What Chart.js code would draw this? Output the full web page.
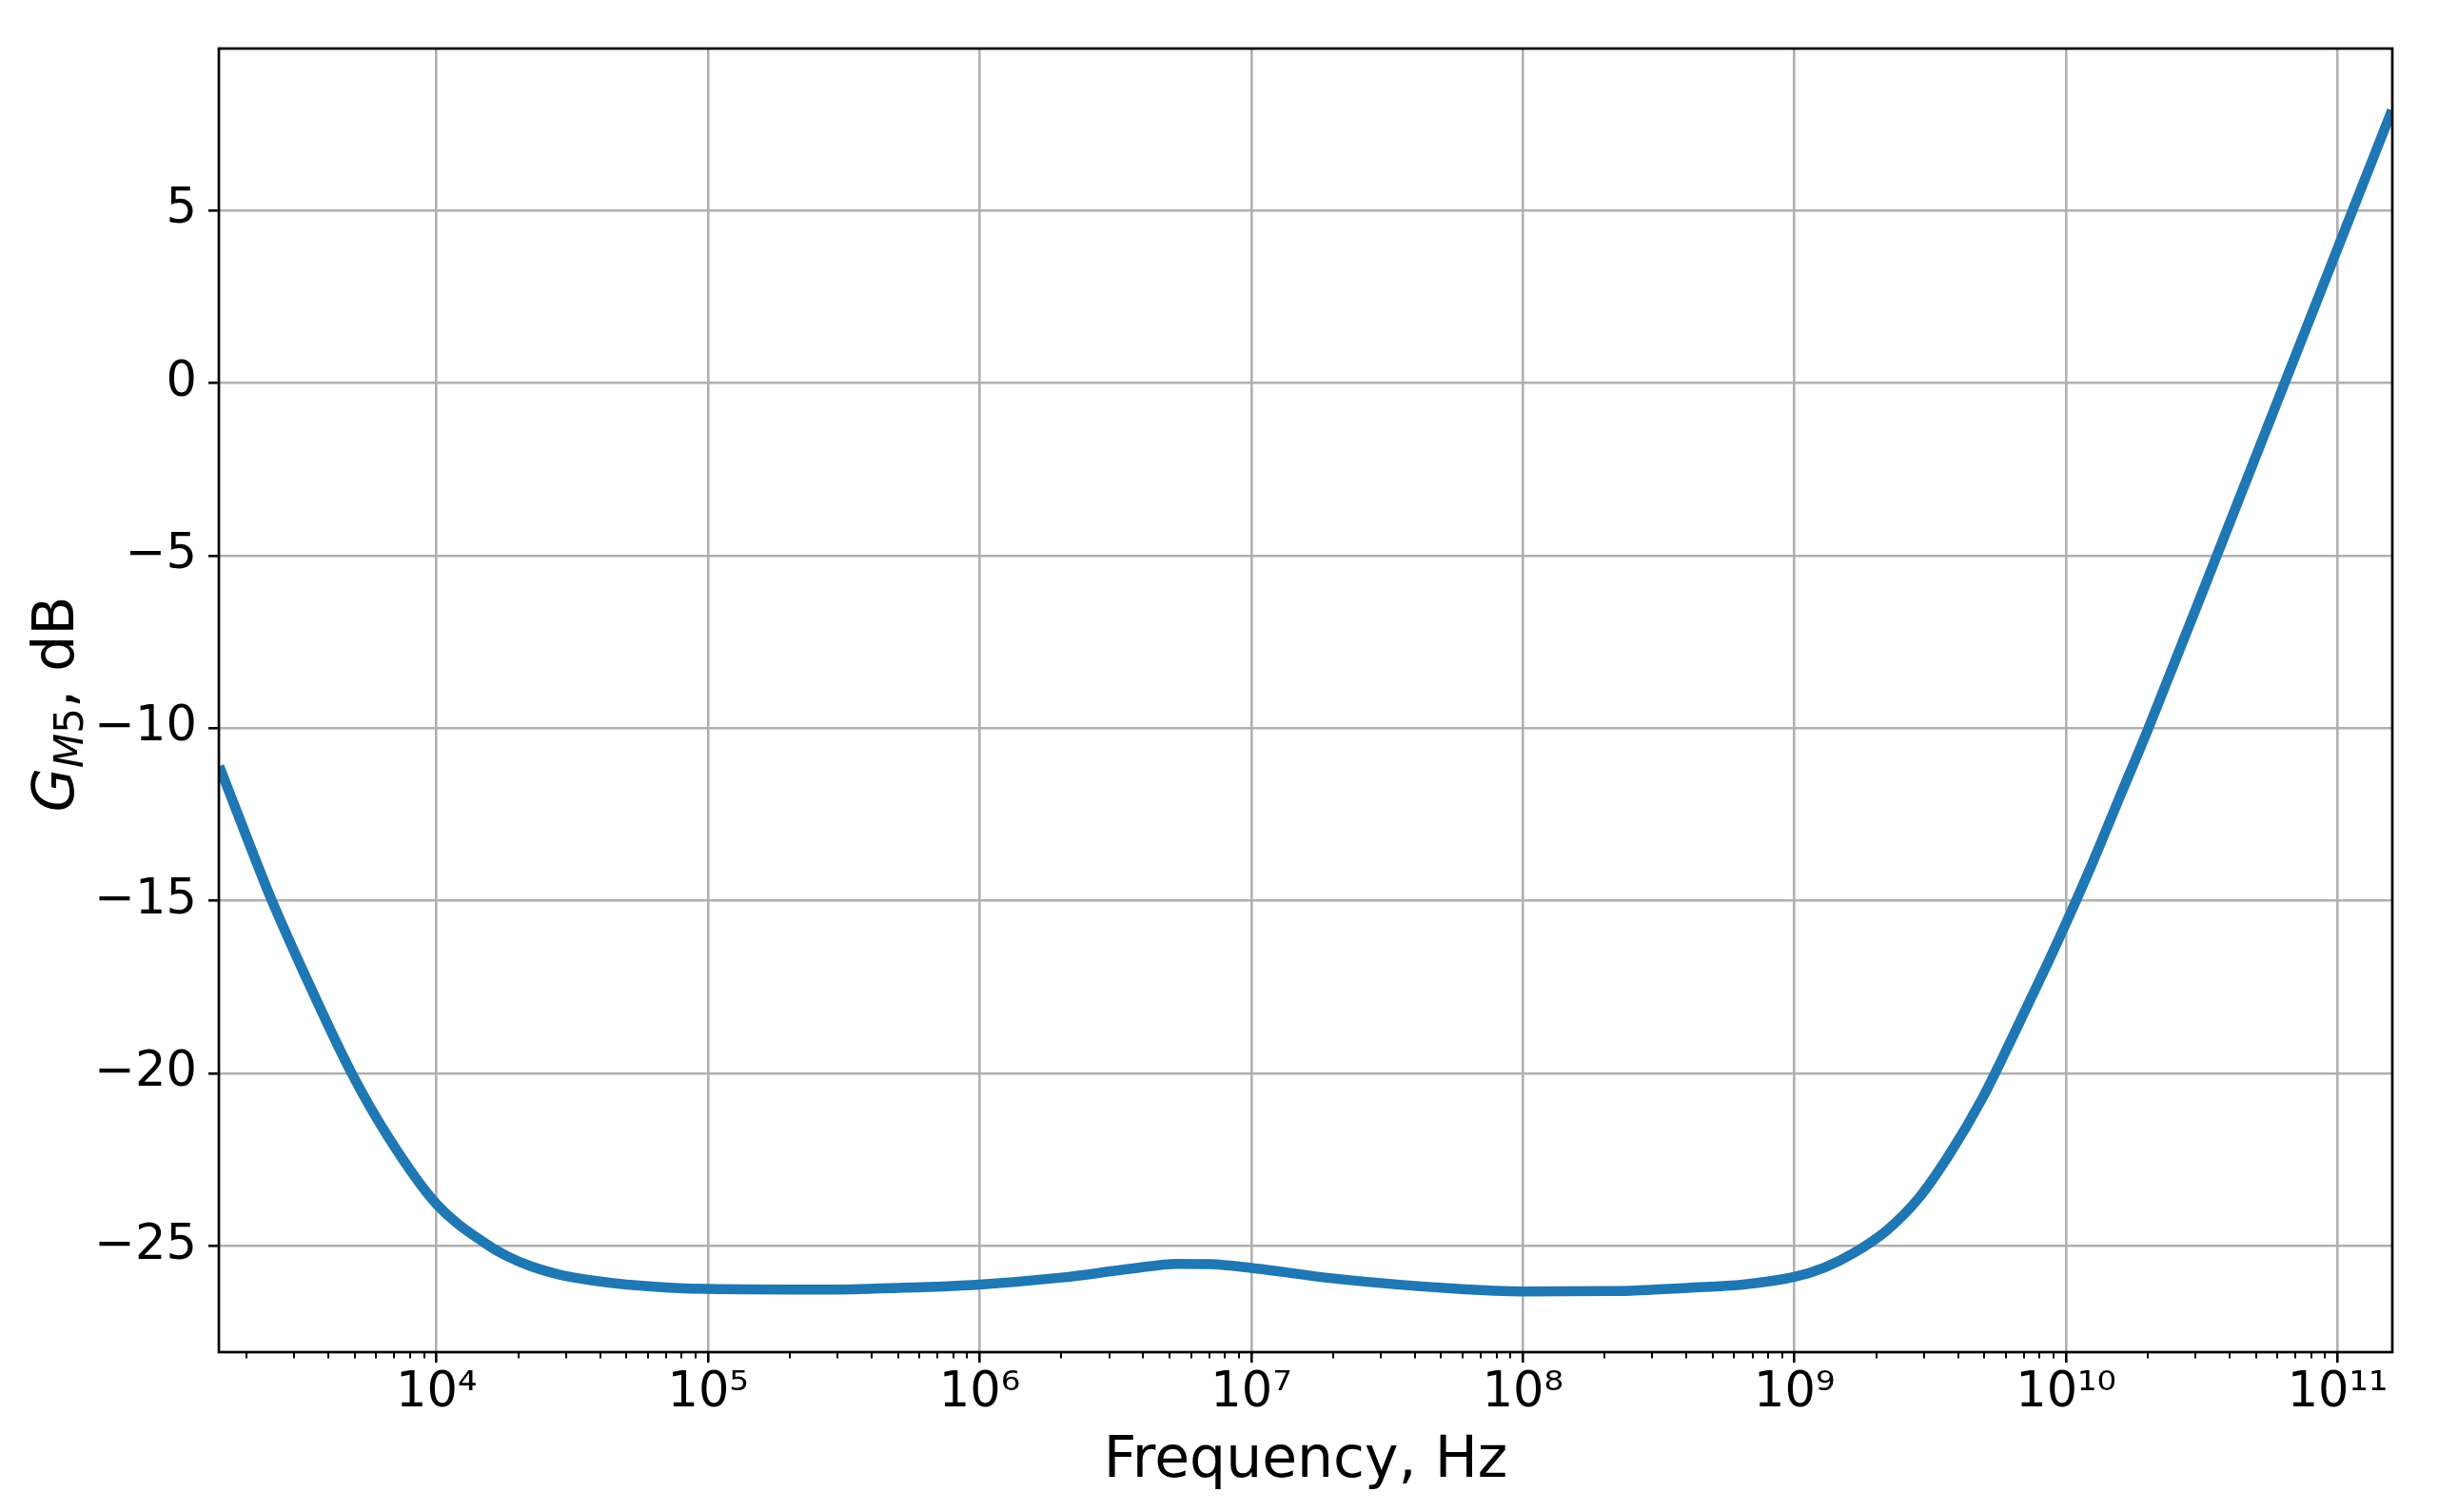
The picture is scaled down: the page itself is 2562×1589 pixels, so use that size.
<!DOCTYPE html>
<html>
<head>
<meta charset="utf-8">
<script src="https://cdn.jsdelivr.net/npm/chart.js@4.4.1/dist/chart.umd.min.js"></script>
<style>
  html, body { margin: 0; padding: 0; background: #ffffff; }
  canvas { display: block; }
</style>
</head>
<body>
<canvas id="gain" width="2562" height="1589"></canvas>
<script>
// values: frequency in Hz, gain in dB
const frequencyHz = [1585, 2113, 2477, 3254, 4870, 6683, 1.0e4, 15400, 18200, 22390,
  28180, 37150, 50120, 1.0e5, 2.69e5, 5.0e5, 1.0e6, 2.0e6, 3.55e6, 5.37e6,
  7.08e6, 1.0e7, 2.09e7, 5.62e7, 1.0e8, 2.14e8, 4.17e8, 6.46e8, 1.0e9, 1.29e9,
  1.66e9, 2.19e9, 2.88e9, 3.72e9, 4.9e9, 6.31e9, 8.51e9, 1.0e10, 1.26e10, 1.58e10,
  2.0e10, 3.55e10, 6.31e10, 1.0e11, 1.585e11];
const gainDb = [-11.1, -13.64, -15.0, -17.1, -20.0, -21.88, -23.79, -24.97, -25.3, -25.6,
  -25.83, -26.0, -26.12, -26.25, -26.27, -26.22, -26.12, -25.92, -25.67, -25.52,
  -25.53, -25.64, -25.96, -26.24, -26.32, -26.31, -26.21, -26.12, -25.9, -25.63,
  -25.2, -24.55, -23.6, -22.35, -20.75, -19.0, -16.85, -15.65, -13.85, -11.98,
  -10.05, -5.1, -0.1, 3.9, 7.9];
const yTicks = [-25, -20, -15, -10, -5, 0, 5];
const xDecades = [3, 4, 5, 6, 7, 8, 9, 10, 11];
const xMin = 1580, xMax = 1.59e11;
const yMin = -28.08, yMax = 9.69;

const SUP = "⁰¹²³⁴⁵⁶⁷⁸⁹";
const sup = n => String(n).split("").map(d => SUP[+d]).join("");
const isDecade = v => Math.abs(Math.log10(v) - Math.round(Math.log10(v))) < 1e-9;

// every 1..9 x 10^n inside the axis range
const xTickValues = [];
xDecades.forEach(e => {
	for (let k = 1; k <= 9; k++) {
		const v = k * Math.pow(10, e);
		if (v >= xMin && v <= xMax) xTickValues.push(v);
	}
});

const GRID = "#b0b0b0";

const frame = {
	id: "frame",
	afterDraw(chart) {
		const { ctx, chartArea: a, scales: { x } } = chart;
		ctx.save();
		// minor ticks on the log axis
		ctx.strokeStyle = "#000";
		ctx.lineWidth = 2;
		ctx.beginPath();
		xTickValues.filter(v => !isDecade(v)).forEach(v => {
			const px = Math.round(x.getPixelForValue(v));
			ctx.moveTo(px, a.bottom);
			ctx.lineTo(px, a.bottom + 6.5);
		});
		ctx.stroke();
		// axes box
		ctx.lineWidth = 2.7;
		ctx.strokeRect(a.left, a.top, a.right - a.left, a.bottom - a.top);

		// y title: G_M5, dB
		const yc = (a.top + a.bottom) / 2 + 4;
		ctx.translate(77, yc);
		ctx.rotate(-Math.PI / 2);
		ctx.fillStyle = "#000";
		ctx.textBaseline = "alphabetic";
		ctx.textAlign = "left";
		const fG = "italic 60px 'DejaVu Sans'";
		const fM = "italic 42px 'DejaVu Sans'";
		const f5 = "42px 'DejaVu Sans'";
		const fR = "60px 'DejaVu Sans'";
		const parts = [["G", fG, 0], ["M", fM, 10], ["5", f5, 10], [", dB", fR, 0]];
		let total = 0;
		parts.forEach(p => { ctx.font = p[1]; total += ctx.measureText(p[0]).width; });
		let cx = -total / 2;
		parts.forEach(p => {
			ctx.font = p[1];
			ctx.fillText(p[0], cx, p[2]);
			cx += ctx.measureText(p[0]).width;
		});
		ctx.restore();
	}
};

Chart.defaults.font.family = "'DejaVu Sans'";
Chart.defaults.color = "#000";

new Chart(document.getElementById("gain"), {
	type: "line",
	data: {
		datasets: [{
			data: frequencyHz.map((f, i) => ({ x: f, y: gainDb[i] })),
			borderColor: "#1f77b4",
			borderWidth: 10.5,
			pointRadius: 0,
			cubicInterpolationMode: "monotone",
			fill: false,
			clip: 0
		}]
	},
	options: {
		responsive: false,
		animation: false,
		devicePixelRatio: 1,
		layout: { padding: { top: 51, right: 48, left: 0, bottom: 0 } },
		plugins: { legend: { display: false }, tooltip: { enabled: false } },
		scales: {
			x: {
				type: "logarithmic",
				min: xMin,
				max: xMax,
				afterBuildTicks: s => { s.ticks = xTickValues.map(v => ({ value: v, major: isDecade(v) })); },
				afterFit: s => { s.height = 168; },
				border: { display: false },
				grid: {
					color: c => (c.tick && isDecade(c.tick.value)) ? GRID : "rgba(0,0,0,0)",
					lineWidth: 2.6,
					tickColor: c => (c.tick && isDecade(c.tick.value)) ? "#000" : "rgba(0,0,0,0)",
					tickWidth: 2.6,
					tickLength: 11
				},
				ticks: {
					autoSkip: false,
					maxRotation: 0,
					padding: 2,
					font: { size: 51 },
					callback: v => isDecade(v) ? "10" + sup(Math.round(Math.log10(v))) : ""
				},
				title: {
					display: true,
					text: "Frequency, Hz",
					font: { size: 60 },
					padding: { top: 0, bottom: 17 }
				}
			},
			y: {
				min: yMin,
				max: yMax,
				afterBuildTicks: s => { s.ticks = yTicks.map(v => ({ value: v })); },
				afterFit: s => { s.width = 230; },
				border: { display: false },
				grid: {
					color: GRID,
					lineWidth: 2.6,
					tickColor: "#000",
					tickWidth: 2.6,
					tickLength: 11
				},
				ticks: {
					padding: 12,
					font: { size: 51 },
					callback: v => v < 0 ? "\u2212" + Math.abs(v) : String(v)
				}
			}
		}
	},
	plugins: [frame]
});
</script>
</body>
</html>
